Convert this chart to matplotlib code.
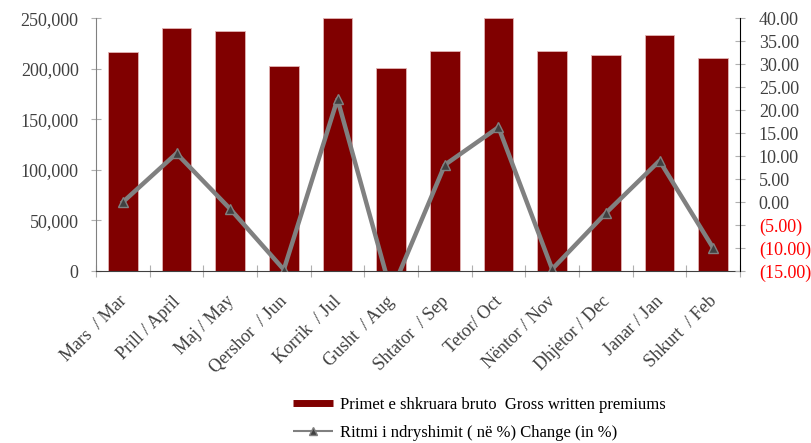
import matplotlib
matplotlib.use("Agg")
import matplotlib.pyplot as plt
import numpy as np
from matplotlib.lines import Line2D
from matplotlib.transforms import ScaledTranslation

plt.rcParams['font.family'] = ['Liberation Serif', 'DejaVu Serif']

categories = ["Mars  / Mar", "Prill / April", "Maj / May", "Qershor  / Jun",
              "Korrik  / Jul", "Gusht  / Aug", "Shtator  / Sep", "Tetor/ Oct",
              "Nëntor / Nov", "Dhjetor / Dec", "Janar / Jan", "Shkurt  / Feb"]
premiums = [217000, 240800, 237800, 203300, 250000, 200600, 217700, 250000,
            217700, 213200, 233000, 210300]
change_pct = [0.0, 10.6, -1.5, -14.7, 22.4, -19.6, 8.1, 16.3, -14.6, -2.4, 9.0, -10.0]

left_ticks = [0, 50000, 100000, 150000, 200000, 250000]
right_ticks = [-15, -10, -5, 0, 5, 10, 15, 20, 25, 30, 35, 40]

bar_label = "Primet e shkruara bruto  Gross written premiums"
line_label = "Ritmi i ndryshimit ( në %) Change (in %)"

fig = plt.figure(figsize=(8.12, 4.43), dpi=100)
ax = fig.add_axes([96/812, 1-271/443, (740-96)/812, (271-18.3)/443])
ax2 = ax.twinx()

x = np.arange(len(categories))
ax.bar(x, premiums, width=0.55, color='#800000', edgecolor='#e2b4b4', linewidth=0.6, zorder=2)
ax.set_xlim(-0.5, len(categories)-0.5)
ax.set_ylim(0, 250000)
ax.set_yticks(left_ticks)
ax.set_yticklabels([f"{v:,.0f}" for v in left_ticks])

ax2.plot(x, change_pct, color='#808080', linewidth=3.2, marker='^', markersize=7.5,
         markerfacecolor='#404040', markeredgecolor='#808080', markeredgewidth=1, zorder=3)
ax2.set_ylim(-15, 40)
ax2.set_yticks(right_ticks)
ax2.set_yticklabels([f"({abs(v):.2f})" if v < 0 else f"{v:.2f}" for v in right_ticks])
for lbl, v in zip(ax2.get_yticklabels(), right_ticks):
    lbl.set_color('red' if v < 0 else '#404040')

# spines
for sp in ['top']:
    ax.spines[sp].set_visible(False)
    ax2.spines[sp].set_visible(False)
ax2.spines['left'].set_visible(False)
ax2.spines['bottom'].set_visible(False)
ax.spines['right'].set_visible(False)
ax.spines['left'].set_color('#808080')
ax.spines['bottom'].set_color('#404040')
ax2.spines['right'].set_color('black')

ax.tick_params(axis='y', direction='inout', length=7, color='#b0b0b0', labelsize=13,
               labelcolor='#404040', pad=9)
ax2.tick_params(axis='y', direction='inout', length=7, color='#b0b0b0', labelsize=13, pad=10)

# x ticks: marks at boundaries, labels at centers
ax.set_xticks(np.arange(len(categories)+1) - 0.5)
ax.set_xticklabels([])
ax.tick_params(axis='x', which='major', direction='inout', length=8, color='#b0b0b0')
ax.set_xticks(x, minor=True)
ax.set_xticklabels(categories, minor=True, rotation=45, ha='right', va='center',
                   rotation_mode='anchor', fontsize=13, color='#404040')
ax.tick_params(axis='x', which='minor', length=0, pad=20)
for lbl in ax.get_xticklabels(minor=True):
    lbl.set_transform(lbl.get_transform() + ScaledTranslation(1/100, 0, fig.dpi_scale_trans))

handles = [Line2D([0], [0], color='#800000', linewidth=5, solid_capstyle='butt'),
           Line2D([0], [0], color='#808080', linewidth=1.5, marker='^', markersize=6,
                  markerfacecolor='#404040', markeredgecolor='#808080', solid_capstyle='butt')]
fig.legend(handles, [bar_label, line_label], loc='upper left',
           bbox_to_anchor=(286/812, 1-390/443), frameon=False, fontsize=12,
           handlelength=2.45, handletextpad=0.4, labelspacing=0.75, borderaxespad=0)

fig.savefig("out.png", dpi=100)
